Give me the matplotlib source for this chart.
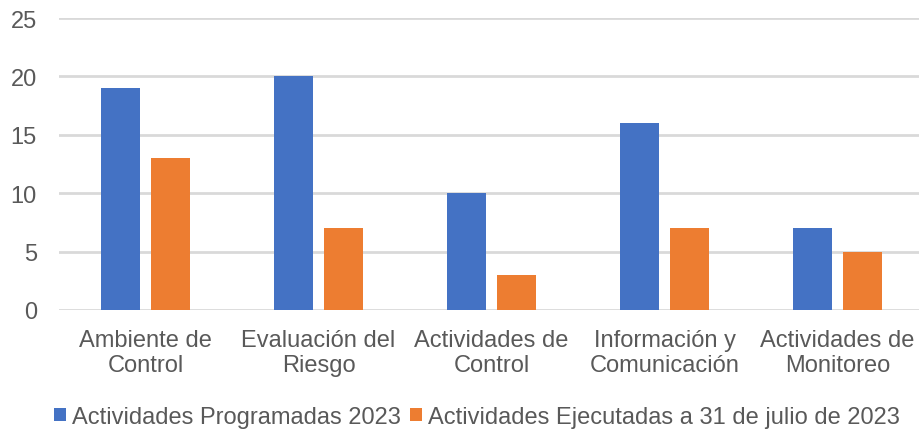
import matplotlib
matplotlib.use("Agg")
import matplotlib.pyplot as plt
import numpy as np

categories = ["Ambiente de\nControl", "Evaluación del\nRiesgo", "Actividades de\nControl",
              "Información y\nComunicación", "Actividades de\nMonitoreo"]
programadas = [19, 20, 10, 16, 7]
ejecutadas = [13, 7, 3, 7, 5]
series_labels = ["Actividades Programadas 2023", "Actividades Ejecutadas a 31 de julio de 2023"]
y_ticks = [0, 5, 10, 15, 20, 25]

plt.rcParams["font.family"] = ["Liberation Sans", "DejaVu Sans"]
text_color = "#595959"
fs = 17

fig = plt.figure(figsize=(9.2, 4.31), dpi=100)
W, H = 920, 431
ax = fig.add_axes([59 / W, (H - 311) / H, 865 / W, 292 / H])

x = np.arange(len(categories))
bw = 0.222
off = 0.145
ax.bar(x - off, programadas, bw, color="#4472C4", label=series_labels[0], zorder=3)
ax.bar(x + off, ejecutadas, bw, color="#ED7D31", label=series_labels[1], zorder=3)

ax.set_xlim(-0.5, len(categories) - 0.5)
ax.set_ylim(0, 25)
ax.set_yticks(y_ticks)
ax.set_yticklabels([str(v) for v in y_ticks], fontsize=fs, color=text_color)
ax.set_xticks(x)
ax.set_xticklabels(categories, fontsize=fs, color=text_color, linespacing=1.15)
ax.tick_params(axis="both", length=0)
ax.tick_params(axis="y", pad=16)
ax.tick_params(axis="x", pad=14)
ax.yaxis.grid(True, color="#d9d9d9", linewidth=2, zorder=0)
ax.set_axisbelow(True)
for s in ax.spines.values():
    s.set_visible(False)

leg = fig.legend(loc="center", bbox_to_anchor=(477 / W, (H - 418) / H), ncol=2,
                 frameon=False, fontsize=fs, handlelength=0.5, handleheight=0.5,
                 handletextpad=0.25, columnspacing=0.42, labelcolor=text_color)

fig.savefig("out.png", dpi=100)
